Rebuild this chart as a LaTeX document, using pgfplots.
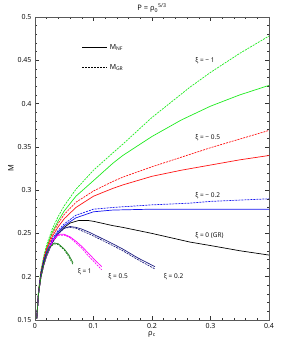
\documentclass[border=0pt]{standalone}
\usepackage{fontspec}
\setmainfont{Open Sans}
\usepackage{pgfplots}
\pgfplotsset{compat=1.18}
\definecolor{cgreen}{RGB}{30,235,30}
\definecolor{cred}{RGB}{255,20,20}
\definecolor{cblue}{RGB}{20,20,240}
\definecolor{cnavy}{RGB}{30,30,130}
\definecolor{cmag}{RGB}{255,0,255}
\definecolor{cdkgreen}{RGB}{30,130,30}
\begin{document}
\begin{tikzpicture}
\begin{axis}[
  scale only axis, width=234pt, height=303pt,
  xmin=0, xmax=0.4, ymin=0.15, ymax=0.5,
  xtick={0,0.1,0.2,0.3,0.4}, ytick={0.15,0.2,0.25,0.3,0.35,0.4,0.45,0.5},
  xticklabels={0,0.1,0.2,0.3,0.4},
  yticklabels={0.15,0.2,0.25,0.3,0.35,0.4,0.45,0.5},
  minor x tick num=4, minor y tick num=4,
  tick align=inside, major tick length=4pt, minor tick length=2pt,
  every tick/.style={black!80, line width=0.45pt},
  axis line style={line width=0.6pt, black!65},
  tick label style={font=\fontsize{7}{8}\selectfont},
  /pgf/number format/assume math mode=true,
  title={\fontsize{7.5}{9}\selectfont P = ρ\textsubscript{0}\textsuperscript{5/3}},
  title style={yshift=-5pt},
  xlabel={\fontsize{7.5}{9}\selectfont ρ\textsubscript{c}}, xlabel style={yshift=4pt},
  ylabel={\fontsize{7.5}{9}\selectfont M}, ylabel style={yshift=-3pt},
  legend style={at={(axis cs:0.075,0.473)}, anchor=north west, draw=none, fill=none,
    font=\fontsize{7}{8}\selectfont, row sep=9pt},
  legend cell align=left,
  legend image code/.code={\draw[#1] (0pt,0pt) -- (25pt,0pt);},
  every axis plot/.append style={line width=0.7pt},
]
\addlegendimage{black, solid}
\addlegendentry{M\textsubscript{NF}}
\addlegendimage{black, dash pattern=on 2pt off 1pt}
\addlegendentry{M\textsubscript{GR}}

% xi = -1
\addplot[cgreen, forget plot] coordinates {(0.003,0.152)(0.006,0.183)(0.01,0.205)(0.015,0.222)(0.02,0.234)(0.03,0.252)(0.04,0.265)(0.05,0.276)(0.07,0.293)(0.1,0.311)(0.133,0.331)(0.15,0.340)(0.2,0.362)(0.25,0.381)(0.3,0.397)(0.35,0.410)(0.4,0.421)};
\addplot[cgreen, dash pattern=on 2pt off 1pt, forget plot] coordinates {(0.003,0.152)(0.006,0.184)(0.01,0.207)(0.015,0.224)(0.02,0.237)(0.03,0.256)(0.04,0.270)(0.05,0.282)(0.07,0.301)(0.1,0.323)(0.133,0.343)(0.15,0.353)(0.2,0.384)(0.265,0.419)(0.3,0.436)(0.35,0.458)(0.4,0.478)};
% xi = -0.5
\addplot[cred, forget plot] coordinates {(0.003,0.152)(0.006,0.182)(0.01,0.204)(0.015,0.220)(0.02,0.231)(0.03,0.247)(0.04,0.258)(0.05,0.267)(0.07,0.280)(0.1,0.293)(0.133,0.302)(0.15,0.306)(0.2,0.316)(0.25,0.323)(0.3,0.329)(0.35,0.335)(0.4,0.340)};
\addplot[cred, dash pattern=on 2pt off 1pt, forget plot] coordinates {(0.003,0.152)(0.006,0.182)(0.01,0.205)(0.015,0.221)(0.02,0.233)(0.03,0.250)(0.04,0.262)(0.05,0.272)(0.07,0.286)(0.1,0.299)(0.133,0.310)(0.15,0.315)(0.2,0.327)(0.25,0.338)(0.3,0.349)(0.35,0.359)(0.4,0.369)};
% xi = -0.2
\addplot[cblue, forget plot] coordinates {(0.003,0.152)(0.006,0.181)(0.01,0.203)(0.015,0.218)(0.02,0.228)(0.03,0.242)(0.04,0.252)(0.05,0.259)(0.07,0.268)(0.1,0.275)(0.133,0.277)(0.2,0.278)(0.3,0.278)(0.4,0.278)};
\addplot[cblue, dash pattern=on 2pt off 1pt, forget plot] coordinates {(0.003,0.152)(0.006,0.181)(0.01,0.203)(0.015,0.219)(0.02,0.229)(0.03,0.244)(0.04,0.254)(0.05,0.261)(0.07,0.271)(0.1,0.278)(0.133,0.280)(0.2,0.283)(0.265,0.285)(0.3,0.287)(0.4,0.290)};
% xi = 0 (GR)
\addplot[black, forget plot] coordinates {(0.003,0.152)(0.006,0.180)(0.01,0.201)(0.015,0.216)(0.02,0.226)(0.03,0.240)(0.04,0.250)(0.05,0.257)(0.06,0.262)(0.075,0.265)(0.09,0.265)(0.1,0.264)(0.133,0.259)(0.15,0.257)(0.2,0.250)(0.265,0.240)(0.3,0.236)(0.35,0.230)(0.4,0.225)};
% xi = 0.2
\addplot[cnavy, forget plot] coordinates {(0.003,0.152)(0.006,0.180)(0.01,0.200)(0.015,0.214)(0.02,0.224)(0.03,0.240)(0.04,0.250)(0.05,0.256)(0.06,0.258)(0.07,0.257)(0.08,0.255)(0.094,0.251)(0.1,0.249)(0.133,0.238)(0.15,0.232)(0.175,0.222)(0.205,0.2116)};
\addplot[cnavy, dash pattern=on 2pt off 1pt, forget plot] coordinates {(0.003,0.152)(0.006,0.180)(0.01,0.200)(0.015,0.214)(0.02,0.224)(0.03,0.240)(0.04,0.250)(0.05,0.256)(0.06,0.257)(0.07,0.256)(0.08,0.253)(0.094,0.249)(0.1,0.247)(0.133,0.236)(0.15,0.230)(0.175,0.220)(0.205,0.209)};
% xi = 0.5
\addplot[cmag, forget plot] coordinates {(0.003,0.152)(0.006,0.180)(0.01,0.199)(0.015,0.213)(0.02,0.225)(0.03,0.242)(0.04,0.249)(0.05,0.249)(0.06,0.246)(0.07,0.241)(0.08,0.235)(0.09,0.228)(0.1,0.221)(0.114,0.2116)};
\addplot[cmag, dash pattern=on 2pt off 1pt, forget plot] coordinates {(0.003,0.152)(0.006,0.180)(0.01,0.199)(0.015,0.213)(0.02,0.225)(0.03,0.241)(0.04,0.248)(0.05,0.248)(0.06,0.245)(0.07,0.239)(0.08,0.233)(0.09,0.225)(0.1,0.218)(0.114,0.208)};
% xi = 1
\addplot[cdkgreen, forget plot] coordinates {(0.003,0.152)(0.006,0.180)(0.01,0.199)(0.015,0.214)(0.02,0.226)(0.025,0.234)(0.033,0.239)(0.04,0.238)(0.05,0.232)(0.058,0.225)(0.065,0.216)};
\addplot[cdkgreen, dash pattern=on 2pt off 1pt, forget plot] coordinates {(0.003,0.152)(0.006,0.180)(0.01,0.199)(0.015,0.214)(0.02,0.226)(0.025,0.234)(0.033,0.238)(0.04,0.237)(0.05,0.231)(0.058,0.223)(0.065,0.214)};

\node[font=\fontsize{6.5}{7}\selectfont, anchor=west] at (axis cs:0.268,0.45) {ξ = − 1};
\node[font=\fontsize{6.5}{7}\selectfont, anchor=west] at (axis cs:0.268,0.361) {ξ = − 0.5};
\node[font=\fontsize{6.5}{7}\selectfont, anchor=west] at (axis cs:0.268,0.294) {ξ = − 0.2};
\node[font=\fontsize{6.5}{7}\selectfont, anchor=west] at (axis cs:0.268,0.247) {ξ = 0 (GR)};
\node[font=\fontsize{6.5}{7}\selectfont] at (axis cs:0.085,0.206) {ξ = 1};
\node[font=\fontsize{6.5}{7}\selectfont] at (axis cs:0.142,0.2) {ξ = 0.5};
\node[font=\fontsize{6.5}{7}\selectfont] at (axis cs:0.237,0.2) {ξ = 0.2};
\end{axis}
\path[use as bounding box] (-35pt,-24pt) rectangle (269pt,320pt);
\end{tikzpicture}
\end{document}
